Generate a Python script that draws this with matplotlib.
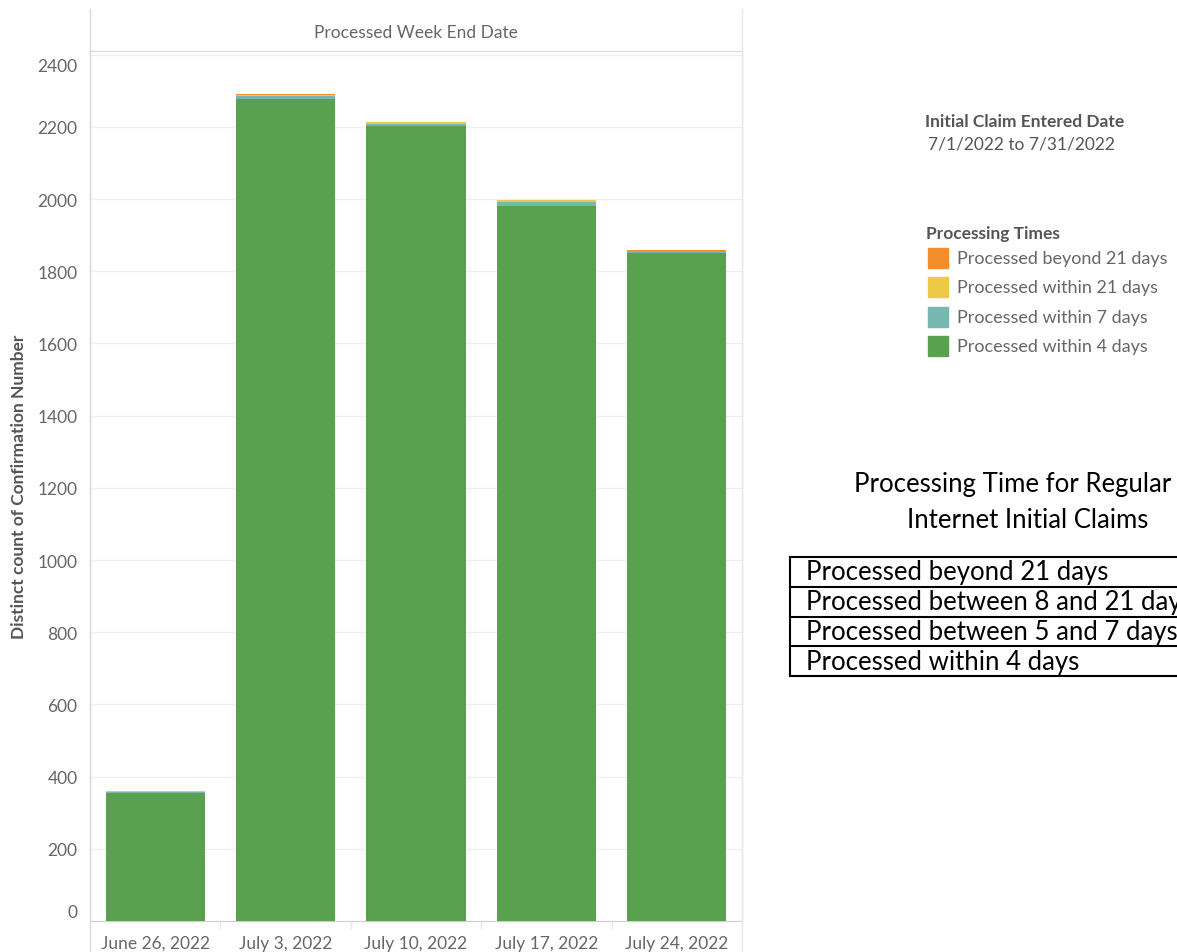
import matplotlib
matplotlib.use("Agg")
import matplotlib.pyplot as plt
from matplotlib.lines import Line2D
from matplotlib.patches import Rectangle
from matplotlib.transforms import ScaledTranslation
import numpy as np

# ---- data ----
categories = ["June 26, 2022", "July 3, 2022", "July 10, 2022", "July 17, 2022", "July 24, 2022"]
within_4 = [355, 2277, 2203, 1982, 1850]
within_7 = [1, 9, 6, 10, 3]
within_21 = [4, 2, 4, 4, 1]
beyond_21 = [0, 4, 1, 1, 4]
series_names = ["Processed within 4 days", "Processed within 7 days",
                "Processed within 21 days", "Processed beyond 21 days"]
series_vals = [within_4, within_7, within_21, beyond_21]
series_colors = ["#59A14F", "#76B7B2", "#EDC948", "#F28E2B"]
yticks = list(range(0, 2401, 200))
table_rows = ["Processed beyond 21 days", "Processed between 8 and 21 days",
              "Processed between 5 and 7 days", "Processed within 4 days"]

W, H = 1177, 953
fig = plt.figure(figsize=(W / 100, H / 100), dpi=100)
fig.patch.set_facecolor("white")

def fx(px):
    return px / W

def fy(py):
    return 1 - py / H

font = "Lato"
gray_txt = "#666666"
fs = 12.5

# main axes
ax_left, ax_right, ax_top, ax_bot = 90, 742, 52, 922
ax = fig.add_axes([fx(ax_left), fy(ax_bot), fx(ax_right - ax_left), (ax_bot - ax_top) / H])
x = np.arange(len(categories))
bottom = np.zeros(len(categories))
for name, vals, col in zip(series_names, series_vals, series_colors):
    ax.bar(x, vals, width=0.76, bottom=bottom, color=col, label=name, zorder=3, linewidth=0)
    bottom += np.array(vals)

ax.set_xlim(-0.5, len(categories) - 0.5)
ax.set_ylim(0, 2410)
ax.set_yticks(yticks)
ax.set_yticklabels([str(v) for v in yticks], fontfamily=font, fontsize=fs, color=gray_txt)
ax.set_xticks(x)
ax.set_xticklabels(categories, fontfamily=font, fontsize=fs, color=gray_txt)
ax.set_xticks(np.arange(0.5, len(categories) - 1, 1.0), minor=True)
ax.tick_params(axis="y", length=0, pad=9)
ax.tick_params(axis="x", which="major", length=0, pad=10)
ax.tick_params(axis="x", which="minor", length=6, color="#e8e8e8", width=1)
ax.grid(axis="y", color="#f0f0f0", linewidth=1, zorder=0)
for s in ["left", "right", "top"]:
    ax.spines[s].set_color("#d9d9d9")
ax.spines["bottom"].set_color("#cfcfcf")

# shift 0 and 2400 labels inward like Tableau
labs = ax.get_yticklabels()
labs[0].set_transform(labs[0].get_transform() + ScaledTranslation(0, 10 / 100, fig.dpi_scale_trans))
labs[-1].set_transform(labs[-1].get_transform() + ScaledTranslation(0, -10 / 100, fig.dpi_scale_trans))

ax.set_ylabel("Distinct count of Confirmation Number", fontfamily=font, fontsize=12.5,
              fontweight="bold", color="#555555")
ax.yaxis.set_label_coords((27 - ax_left) / (ax_right - ax_left), 0.5)

# header strip lines
fig.add_artist(Line2D([fx(ax_left), fx(ax_left)], [fy(10), fy(953)], color="#d9d9d9", lw=1))
fig.add_artist(Line2D([fx(ax_right), fx(ax_right)], [fy(10), fy(953)], color="#e6e6e6", lw=1))
fig.text(fx((ax_left + ax_right) / 2), fy(33), "Processed Week End Date", ha="center", va="center",
         fontfamily=font, fontsize=fs, color=gray_txt)

# legend area
fig.text(fx(925), fy(122), "Initial Claim Entered Date", ha="left", va="center",
         fontfamily=font, fontsize=12.5, fontweight="bold", color="#555555")
fig.text(fx(928), fy(145), "7/1/2022 to 7/31/2022", ha="left", va="center",
         fontfamily=font, fontsize=12.5, color="#555555")
fig.text(fx(926), fy(234), "Processing Times", ha="left", va="center",
         fontfamily=font, fontsize=12.5, fontweight="bold", color="#555555")
leg_order = list(zip(series_names, series_colors))[::-1]
leg_labels = ["Processed beyond 21 days", "Processed within 21 days",
              "Processed within 7 days", "Processed within 4 days"]
for i, ((_, col), lab) in enumerate(zip(leg_order, leg_labels)):
    yc = 259 + i * 29.3
    fig.add_artist(Rectangle((fx(928), fy(yc + 10)), 20 / W, 20 / H, color=col,
                             transform=fig.transFigure))
    fig.text(fx(957), fy(yc), lab, ha="left", va="center",
             fontfamily=font, fontsize=13, color="#666666")

# right side title and table
fig.text(fx(1013), fy(485), "Processing Time for Regular", ha="center", va="center",
         fontfamily=font, fontsize=18.5, color="black")
fig.text(fx(1028), fy(520), "Internet Initial Claims", ha="center", va="center",
         fontfamily=font, fontsize=18.5, color="black")
tb_top, tb_row = 558, 29.75
tb_left = 790
fig.add_artist(Line2D([fx(tb_left), fx(tb_left)], [fy(tb_top), fy(tb_top + 4 * tb_row)], color="black", lw=1.5))
for i in range(5):
    yy = tb_top + i * tb_row
    fig.add_artist(Line2D([fx(tb_left), 1.0], [fy(yy), fy(yy)], color="black", lw=1.5))
for i, t in enumerate(table_rows):
    fig.text(fx(806), fy(tb_top + (i + 0.5) * tb_row), t, ha="left", va="center",
             fontfamily=font, fontsize=18.5, color="black")

fig.savefig("out.png", dpi=100)
